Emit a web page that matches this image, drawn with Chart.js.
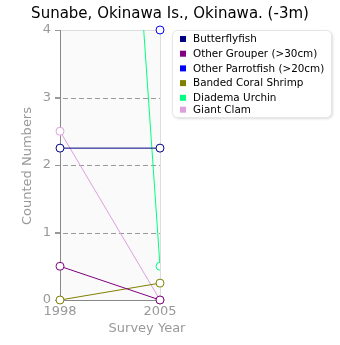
<!DOCTYPE html>
<html>
<head>
<meta charset="utf-8">
<script src="https://cdn.jsdelivr.net/npm/chart.js@4/dist/chart.umd.min.js"></script>
<style>
  html, body { margin: 0; padding: 0; background: #fff; }
  #wrap { width: 340px; height: 345px; }
</style>
</head>
<body>
<div id="wrap"><canvas id="myChart" width="340" height="345"></canvas></div>
<script>
// survey data
var years = ['1998', '2005'];
var butterflyfish = [2.25, 2.25];
var otherGrouper = [0.5, 0];
var otherParrotfish = [null, 4];
var bandedShrimp = [0, 0.25];
var diademaUrchin = [22, 0.5];
var giantClam = [2.5, 0];

var seriesNames = ['Butterflyfish', 'Other Grouper (>30cm)', 'Other Parrotfish (>20cm)', 'Banded Coral Shrimp', 'Diadema Urchin', 'Giant Clam'];
var seriesData = [butterflyfish, otherGrouper, otherParrotfish, bandedShrimp, diademaUrchin, giantClam];
var seriesColors = ['#000080', '#800080', '#0000ff', '#808000', '#00ff80', '#dda0dd'];

var yTicks = [0, 1, 2, 3, 4];
var chartTitle = 'Sunabe, Okinawa Is., Okinawa. (-3m)';
var xTitle = 'Survey Year';
var yTitle = 'Counted Numbers';

var FONT = "'DejaVu Sans', Verdana, sans-serif";

var datasets = [];
for (var i = 0; i < seriesNames.length; i++) {
    datasets.push({
        label: seriesNames[i],
        data: seriesData[i],
        borderColor: seriesColors[i],
        backgroundColor: '#ffffff',
        borderWidth: 1,
        pointRadius: 4,
        pointBorderWidth: 1,
        pointBackgroundColor: '#ffffff',
        pointBorderColor: seriesColors[i],
        tension: 0,
        clip: seriesNames[i] == 'Diadema Urchin' ? 0 : 6
    });
}

// plot background, borders, titles and boxed legend
var decor = {
    id: 'decor',
    beforeDatasetsDraw: function (chart) {
        var ctx = chart.ctx, a = chart.chartArea;
        ctx.save();
        ctx.fillStyle = '#fafafa';
        ctx.fillRect(a.left, a.top, a.right - a.left, a.bottom - a.top);
        ctx.strokeStyle = '#dddddd';
        ctx.lineWidth = 1;
        ctx.beginPath();
        ctx.moveTo(a.left, a.top + 0.5);
        ctx.lineTo(a.right + 0.5, a.top + 0.5);
        ctx.lineTo(a.right + 0.5, a.bottom);
        ctx.stroke();
        // dashed grid on top of the fill
        var ys = chart.scales.y;
        ctx.strokeStyle = '#999999';
        ctx.setLineDash([5, 3]);
        [1, 2, 3].forEach(function (v) {
            var y = Math.round(ys.getPixelForValue(v)) + 0.5;
            ctx.beginPath();
            ctx.moveTo(a.left - 5, y);
            ctx.lineTo(a.right, y);
            ctx.stroke();
        });
        ctx.setLineDash([]);
        ctx.strokeStyle = '#888888';
        ctx.beginPath();
        ctx.moveTo(a.left + 0.5, a.top);
        ctx.lineTo(a.left + 0.5, a.bottom + 0.5);
        ctx.lineTo(a.right + 0.5, a.bottom + 0.5);
        ctx.stroke();
        ctx.restore();
    },
    afterDraw: function (chart) {
        var ctx = chart.ctx;
        ctx.save();
        ctx.fillStyle = '#000';
        ctx.font = '15px ' + FONT;
        ctx.textAlign = 'center';
        ctx.textBaseline = 'middle';
        ctx.fillText(chartTitle, 170, 14);

        ctx.fillStyle = '#999';
        ctx.font = '13px ' + FONT;
        ctx.fillText(xTitle, 147, 329);
        ctx.translate(28, 166);
        ctx.rotate(-Math.PI / 2);
        ctx.fillText(yTitle, 0, 0);
        ctx.restore();

        // legend
        ctx.save();
        ctx.shadowColor = 'rgba(0,0,0,0.18)';
        ctx.shadowBlur = 3;
        ctx.shadowOffsetX = 1;
        ctx.shadowOffsetY = 1;
        ctx.fillStyle = '#fff';
        ctx.beginPath();
        ctx.roundRect(172.5, 30.5, 159, 87, 5);
        ctx.fill();
        ctx.shadowColor = 'transparent';
        ctx.strokeStyle = '#e6e6e6';
        ctx.lineWidth = 1;
        ctx.stroke();
        var rows = [39, 53.7, 68.4, 83.1, 97.8, 109.7];
        ctx.font = '10.4px ' + FONT;
        ctx.textAlign = 'left';
        ctx.textBaseline = 'middle';
        chart.data.datasets.forEach(function (ds, i) {
            ctx.fillStyle = ds.borderColor;
            ctx.fillRect(180, rows[i] - 3, 6, 6);
            ctx.fillStyle = '#000';
            ctx.fillText(ds.label, 193, rows[i] + 0.5);
        });
        ctx.restore();
    }
};

var config = {
    type: 'line',
    data: { labels: years, datasets: datasets },
    options: {
        responsive: false,
        animation: false,
        layout: { padding: { top: 30, right: 180, left: 0, bottom: 0 } },
        plugins: {
            legend: { display: false },
            title: { display: false },
            tooltip: { enabled: false }
        },
        scales: {
            x: {
                offset: false,
                grid: { display: false, drawTicks: false },
                border: { display: false },
                ticks: { color: '#999', font: { family: FONT, size: 13 }, padding: 4, maxRotation: 0 },
                afterFit: function (s) { s.height = 45; }
            },
            y: {
                min: 0,
                max: 4,
                afterBuildTicks: function (s) { s.ticks = yTicks.map(function (v) { return { value: v }; }); },
                grid: { display: true, color: 'transparent', tickColor: '#999', tickLength: 5 },
                border: { display: false },
                ticks: { color: '#999', font: { family: FONT, size: 13 }, padding: 4 },
                afterFit: function (s) { s.width = 60; }
            }
        }
    },
    plugins: [decor]
};

new Chart(document.getElementById('myChart'), config);
</script>
</body>
</html>
